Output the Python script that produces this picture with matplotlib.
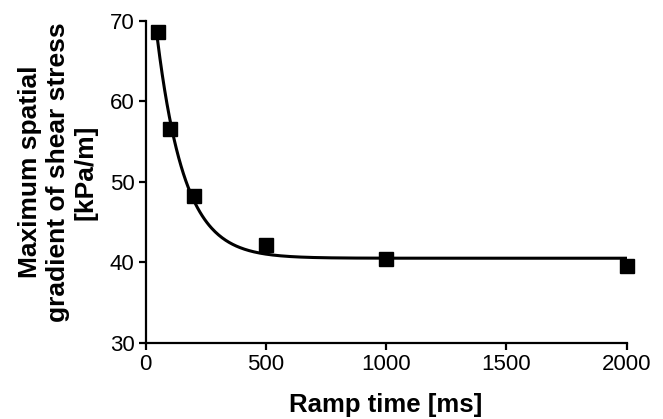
import numpy as np
import matplotlib
matplotlib.use("Agg")
import matplotlib.pyplot as plt

plt.rcParams['font.family'] = ['Liberation Sans', 'DejaVu Sans']

# data
ramp_time = [50, 100, 200, 500, 1000, 2000]   # ms
max_grad = [68.6, 56.6, 48.2, 42.2, 40.4, 39.6]  # kPa/m

x_ticks = [0, 500, 1000, 1500, 2000]
y_ticks = [30, 40, 50, 60, 70]

# one-phase exponential decay fit, weighted by 1/Y^2
x = np.array(ramp_time, dtype=float)
y = np.array(max_grad, dtype=float)
w = 1.0 / y
best = None
for k in np.linspace(0.001, 0.05, 4000):
    A = np.column_stack([np.ones_like(x), np.exp(-k * x)])
    coef = np.linalg.lstsq(A * w[:, None], y * w, rcond=None)[0]
    err = np.sum(((A @ coef - y) * w) ** 2)
    if best is None or err < best[0]:
        best = (err, k, coef)
_, k, (plateau, span) = best
xf = np.linspace(min(ramp_time), max(ramp_time), 400)
yf = plateau + span * np.exp(-k * xf)

fig = plt.figure(figsize=(6.63, 4.19), dpi=100)
ax = fig.add_axes([0.2195, 0.182, 0.7255, 0.768])

ax.plot(xf, yf, color='black', lw=2.2, zorder=2)
ax.plot(ramp_time, max_grad, 's', color='black', ms=9.5, clip_on=False, zorder=3)

ax.set_xlim(0, 2000)
ax.set_ylim(30, 70)
ax.set_xticks(x_ticks)
ax.set_yticks(y_ticks)

for s in ['top', 'right']:
    ax.spines[s].set_visible(False)
for s in ['left', 'bottom']:
    ax.spines[s].set_linewidth(1.6)
ax.tick_params(width=1.6, length=5, labelsize=16, pad=3)

ax.set_xlabel("Ramp time [ms]", fontsize=18.5, fontweight='bold', labelpad=13)
ax.set_ylabel("Maximum spatial\ngradient of shear stress\n[kPa/m]",
              fontsize=19, fontweight='bold')
ax.yaxis.set_label_coords(-0.1, 0.53)

fig.savefig("out.png", dpi=100)
